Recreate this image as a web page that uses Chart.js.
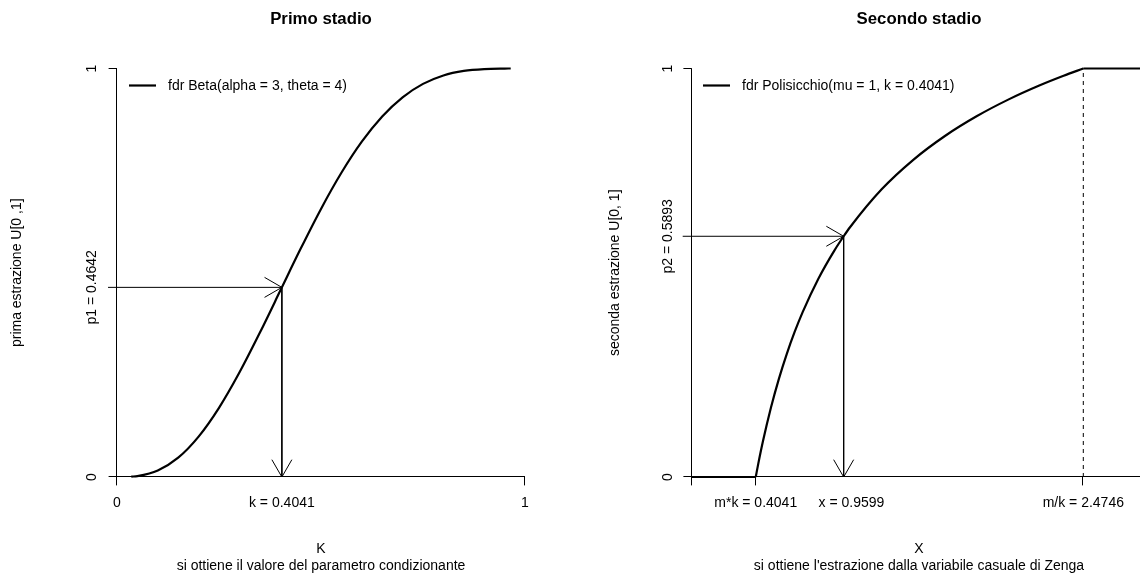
<!DOCTYPE html>
<html>
<head>
<meta charset="utf-8">
<title>Primo e secondo stadio</title>
<script src="https://cdn.jsdelivr.net/npm/chart.js@4.4.1/dist/chart.umd.min.js"></script>
<style>
  body { margin: 0; background: #fff; }
  .panel { position: absolute; top: 0; width: 570px; height: 580px; }
</style>
</head>
<body>
<div class="panel" style="left:0"><canvas id="primo" width="570" height="580"></canvas></div>
<div class="panel" style="left:570px"><canvas id="secondo" width="570" height="580"></canvas></div>
<script>
// parametri delle due estrazioni
const k = 0.4041;
const p1 = 0.4642;
const p2 = 0.5893;
const xZenga = 0.9599;
const mk = 0.4041;
const mOverK = 2.4746;
const xMaxZenga = 2.833;

// fdr Beta(3, 4)
const betaX = [0.035, 0.05, 0.1, 0.15, 0.2, 0.25, 0.3, 0.35, 0.4, 0.4041, 0.45, 0.5,
  0.55, 0.6, 0.65, 0.7, 0.75, 0.8, 0.85, 0.9, 0.95, 0.965];
const betaY = [0.0008, 0.0022, 0.0159, 0.0473, 0.0989, 0.1694, 0.2557, 0.3529, 0.4557, 0.4642, 0.5585, 0.6563,
  0.7447, 0.8208, 0.8826, 0.9295, 0.9624, 0.9830, 0.9941, 0.9987, 0.9999, 1.0];

// fdr Polisicchio(mu = 1, k = 0.4041)
const zengaX = [0.4041, 0.42, 0.45, 0.5, 0.55, 0.6, 0.65, 0.7, 0.8, 0.9, 0.9599, 1.0,
  1.2, 1.4, 1.6, 1.8, 2.0, 2.2, 2.35, 2.4746];
const zengaY = [0, 0.0321, 0.0879, 0.1695, 0.2397, 0.3009, 0.3550, 0.4031, 0.4854, 0.5537, 0.5893, 0.6114,
  0.7043, 0.7765, 0.8348, 0.8830, 0.9238, 0.9589, 0.9822, 1.0];

// etichette degli assi
const primoXTicks = [0, k, 1];
const primoXLabels = ['0', 'k = 0.4041', '1'];
const primoXMarks = [true, false, true];
const primoYTicks = [0, p1, 1];
const primoYLabels = ['0', 'p1 = 0.4642', '1'];
const primoYMarks = [true, false, true];

const secondoXTicks = [0, mk, xZenga, mOverK];
const secondoXLabels = ['', 'm*k = 0.4041', '    x = 0.9599', 'm/k = 2.4746'];
const secondoXMarks = [true, true, false, true];
const secondoYTicks = [0, p2, 1];
const secondoYLabels = ['0', 'p2 = 0.5893', '1'];
const secondoYMarks = [true, false, true];

const FONT = '"Liberation Sans", Arial, Helvetica, sans-serif';

const pts = (xs, ys) => xs.map((x, i) => ({ x: x, y: ys[i] }));

function line(data, width, extra) {
  return Object.assign({
    data: data,
    borderColor: '#000',
    borderWidth: width,
    pointRadius: 0,
    fill: false,
    clip: false
  }, extra || {});
}

function vtext(ctx, str, x, y) {
  ctx.save();
  ctx.translate(x, y);
  ctx.rotate(-Math.PI / 2);
  ctx.textAlign = 'center';
  ctx.textBaseline = 'middle';
  ctx.fillText(str, 0, 0);
  ctx.restore();
}

function arrowHead(ctx, x0, y0, x1, y1) {
  const a = Math.atan2(y1 - y0, x1 - x0), len = 20, ang = Math.PI / 6;
  ctx.beginPath();
  ctx.moveTo(x1 - len * Math.cos(a - ang), y1 - len * Math.sin(a - ang));
  ctx.lineTo(x1, y1);
  ctx.lineTo(x1 - len * Math.cos(a + ang), y1 - len * Math.sin(a + ang));
  ctx.stroke();
}

// assi in stile R, etichette, titoli, legenda e punte delle frecce
function rPlot(spec) {
  return {
    id: 'rPlot',
    afterDatasetsDraw(chart) {
      const ctx = chart.ctx;
      const X = v => chart.scales.x.getPixelForValue(v);
      const Y = v => chart.scales.y.getPixelForValue(v);
      const snap = p => Math.round(p) - 0.5;
      const tl = 8.4;
      ctx.save();
      ctx.strokeStyle = '#000';
      ctx.fillStyle = '#000';
      ctx.lineWidth = 1;

      // asse y
      ctx.beginPath();
      ctx.moveTo(snap(X(0)), Y(0));
      ctx.lineTo(snap(X(0)), Y(1));
      spec.yTicks.forEach((v, i) => {
        if (!spec.yMarks[i]) return;
        ctx.moveTo(X(0), snap(Y(v)));
        ctx.lineTo(X(0) - tl, snap(Y(v)));
      });
      // asse x
      ctx.moveTo(X(0), snap(Y(0)));
      ctx.lineTo(X(spec.xEnd), snap(Y(0)));
      spec.xTicks.forEach((v, i) => {
        if (!spec.xMarks[i]) return;
        ctx.moveTo(snap(X(v)), Y(0));
        ctx.lineTo(snap(X(v)), Y(0) + tl);
      });
      ctx.stroke();

      // punte delle frecce
      spec.arrows.forEach(idx => {
        const d = chart.data.datasets[idx].data;
        const a = d[d.length - 2], b = d[d.length - 1];
        arrowHead(ctx, X(a.x), Y(a.y), X(b.x), Y(b.y));
      });

      ctx.font = '14px ' + FONT;
      spec.yTicks.forEach((v, i) => vtext(ctx, spec.yLabels[i], spec.yLabelX, Y(v)));
      ctx.textAlign = 'center';
      ctx.textBaseline = 'middle';
      spec.xTicks.forEach((v, i) => ctx.fillText(spec.xLabels[i], X(v), spec.xLabelY));

      // titoli degli assi
      vtext(ctx, spec.yTitle, spec.yTitleX, (Y(0) + Y(1)) / 2);
      ctx.fillText(spec.xTitle[0], spec.centerX, 549);
      ctx.fillText(spec.xTitle[1], spec.centerX, 566);

      // legenda
      ctx.lineWidth = 2.2;
      ctx.beginPath();
      ctx.moveTo(spec.legendX, 85.5);
      ctx.lineTo(spec.legendX + 27, 85.5);
      ctx.stroke();
      ctx.textAlign = 'left';
      ctx.fillText(spec.legend, spec.legendX + 39, 86);

      ctx.font = 'bold 16.8px ' + FONT;
      ctx.textAlign = 'center';
      ctx.fillText(spec.title, spec.centerX, 19);
      ctx.restore();
    }
  };
}

function baseOptions(padding, xMax) {
  return {
    animation: false,
    responsive: false,
    layout: { padding: padding },
    plugins: { legend: { display: false }, tooltip: { enabled: false } },
    scales: {
      x: { type: 'linear', min: 0, max: xMax, display: false },
      y: { type: 'linear', min: 0, max: 1, display: false }
    }
  };
}

// Primo stadio
new Chart(document.getElementById('primo'), {
  type: 'line',
  data: {
    datasets: [
      line(pts(betaX, betaY), 2.2, { cubicInterpolationMode: 'monotone' }),
      line(pts([-0.022, k], [p1, p1]), 1),
      line(pts([k, k], [p1, 0]), 1)
    ]
  },
  options: baseOptions({ left: 117, right: 45, top: 68.5, bottom: 103 }, 1),
  plugins: [rPlot({
    xTicks: primoXTicks, xLabels: primoXLabels, xMarks: primoXMarks,
    yTicks: primoYTicks, yLabels: primoYLabels, yMarks: primoYMarks,
    xEnd: 1, yLabelX: 92, xLabelY: 503,
    arrows: [1, 2],
    title: 'Primo stadio', centerX: 321,
    yTitle: 'prima estrazione U[0 ,1]', yTitleX: 17,
    xTitle: ['K', 'si ottiene il valore del parametro condizionante'],
    legend: 'fdr Beta(alpha = 3, theta = 4)', legendX: 129
  })]
});

// Secondo stadio
new Chart(document.getElementById('secondo'), {
  type: 'line',
  data: {
    datasets: [
      line(pts([0, mk], [0, 0]), 2.2),
      line(pts(zengaX, zengaY), 2.2, { cubicInterpolationMode: 'monotone' }),
      line(pts([mOverK, xMaxZenga], [1, 1]), 2.2),
      line(pts([-0.0575, xZenga], [p2, p2]), 1),
      line(pts([xZenga, xZenga], [p2, 0]), 1),
      line(pts([mOverK, mOverK], [0, 1]), 1, { borderDash: [4, 4] })
    ]
  },
  options: baseOptions({ left: 121.8, right: 0, top: 68.5, bottom: 103 }, xMaxZenga),
  plugins: [rPlot({
    xTicks: secondoXTicks, xLabels: secondoXLabels, xMarks: secondoXMarks,
    yTicks: secondoYTicks, yLabels: secondoYLabels, yMarks: secondoYMarks,
    xEnd: xMaxZenga, yLabelX: 98, xLabelY: 503,
    arrows: [3, 4],
    title: 'Secondo stadio', centerX: 349,
    yTitle: 'seconda estrazione U[0, 1]', yTitleX: 45,
    xTitle: ['X', 'si ottiene l\'estrazione dalla variabile casuale di Zenga'],
    legend: 'fdr Polisicchio(mu = 1, k = 0.4041)', legendX: 133
  })]
});
</script>
</body>
</html>
